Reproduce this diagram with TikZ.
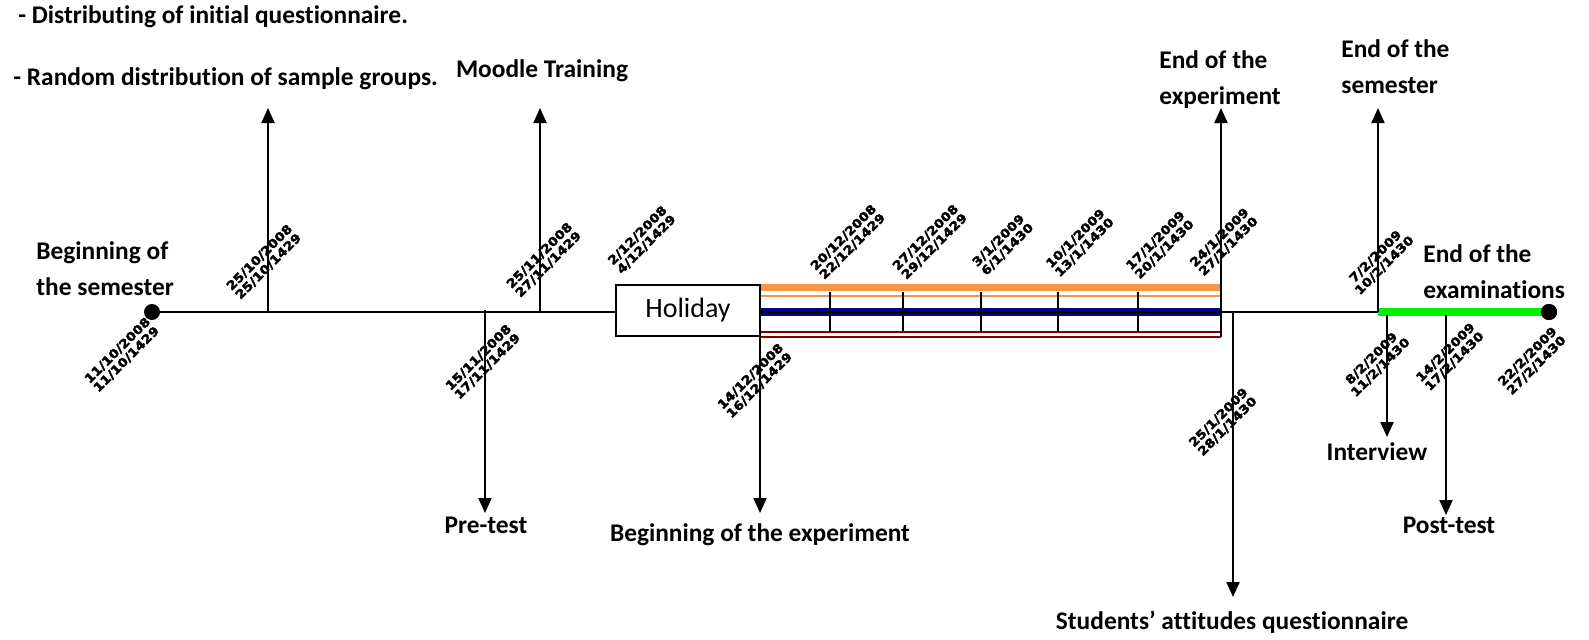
\documentclass[tikz,border=0pt]{standalone}
\usepackage{fontspec}
\setmainfont{Carlito}[Ligatures=NoCommon]
\newfontfamily\datefont[UprightFont={* Bold}, FakeStretch=1.15, FakeBold=3]{DejaVu Sans}
\usetikzlibrary{arrows.meta}
\definecolor{orangeL}{RGB}{247,150,70}
\definecolor{navyL}{RGB}{0,0,140}
\definecolor{maroonL}{RGB}{128,0,0}
\definecolor{greenL}{RGB}{0,240,0}
\tikzset{
  lbl/.style={font=\bfseries\fontsize{12.7}{18}\selectfont, inner sep=0pt},
  dt/.style={font=\datefont\fontsize{6}{6.3}\selectfont, rotate=45, align=center, inner sep=0pt},
  ln/.style={line width=1pt},
  arr/.style={line width=1pt, -{Triangle[width=6.5pt,length=7.5pt]}},
  dot/.style={circle, fill=black, minimum size=8pt, inner sep=0pt},
  tick/.style={line width=0.8pt},
}
\begin{document}
\begin{tikzpicture}[x=0.5pt,y=-0.5pt]
\useasboundingbox (0,0) rectangle (1589,639);
% top texts
\node[lbl, anchor=base west] (q1) at (18,23) {- Distributing of initial questionnaire.};
\node[lbl, anchor=base west] (q2) at (13,85) {- Random distribution of sample groups.};
\node[lbl, anchor=west, align=left] (bsem) at (36,269) {Beginning of\\the semester};
\node[lbl] (moodle) at (542,71) {Moodle Training};
\node[lbl, anchor=west, align=left] (eexp) at (1159,80) {End of the\\experiment};
\node[lbl, anchor=west, align=left] (esem) at (1341,67) {End of the\\semester};
\node[lbl, anchor=west, align=left] (eexam) at (1423,272) {End of the\\examinations};
\node[lbl] (pre) at (486,525) {Pre-test};
\node[lbl] (bexp) at (760,535) {Beginning of the experiment};
\node[lbl] (stud) at (1232,622) {Students’ attitudes questionnaire};
\node[lbl] (intv) at (1377,452) {Interview};
\node[lbl] (post) at (1449,525) {Post-test};

% main timeline
\node[dot] (start) at (152,312) {};
\node[dot] (stop) at (1549,312) {};
\node[draw, line width=0.8pt, minimum width=72pt, minimum height=25.5pt, inner sep=0pt,
      font=\fontsize{14}{16}\selectfont] (hol) at (688,310.5) {Holiday};
\coordinate (bandL) at (761,312);
\coordinate (bandR) at (1221,312);
\coordinate (semEnd) at (1378,312);
\draw[ln] (start) -- (hol.west |- start);
% experiment band
\draw[orangeL, line width=3.6pt] (761,287.5) -- (1221,287.5);
\draw[orangeL, line width=1pt] (761,295.5) -- (1221,295.5);
\draw[navyL, line width=3.8pt] (bandL) -- (bandR);
\draw[black, line width=0.9pt] (bandL) -- (bandR);
\draw[maroonL, line width=1pt] (761,332) -- (1221,332);
\draw[maroonL, line width=1pt] (761,336.5) -- (1221,336.5);
\foreach \x in {830,903,981,1058,1138} \draw[tick] (\x,292) -- (\x,331);
\draw[ln] (bandR) -- (semEnd);
\draw[greenL, line width=3.8pt] (semEnd) -- (stop.center);
\node[dot] at (stop) {};

% arrows
\coordinate (u1a) at (268,312); \coordinate (u1b) at (268,108);
\coordinate (u2a) at (540,312); \coordinate (u2b) at (540,108);
\coordinate (u3a) at (1221,337); \coordinate (u3b) at (1221,108);
\coordinate (u4a) at (1378,312); \coordinate (u4b) at (1378,108);
\coordinate (d1a) at (485,310); \coordinate (d1b) at (485,513);
\coordinate (d2a) at (760,336); \coordinate (d2b) at (760,513);
\coordinate (d3a) at (1233,312); \coordinate (d3b) at (1233,597);
\coordinate (d4a) at (1387,315); \coordinate (d4b) at (1387,437);
\coordinate (d5a) at (1446,315); \coordinate (d5b) at (1446,515);
\foreach \p in {u1,u2,u3,u4,d1,d2,d3,d4,d5} \draw[arr] (\p a) -- (\p b);

% dates
\node[dt] (t1) at (122,355) {11/10/2008\\11/10/1429};
\node[dt] (t2) at (264,262) {25/10/2008\\25/10/1429};
\node[dt] (t3) at (483,362) {15/11/2008\\17/11/1429};
\node[dt] (t4) at (544,260) {25/11/2008\\27/11/1429};
\node[dt] (t5) at (642,240) {2/12/2008\\4/12/1429};
\node[dt] (t6) at (755,381) {14/12/2008\\16/12/1429};
\node[dt] (t7) at (848,242) {20/12/2008\\22/12/1429};
\node[dt] (t8) at (930,242) {27/12/2008\\29/12/1429};
\node[dt] (t9) at (1003,245) {3/1/2009\\6/1/1430};
\node[dt] (t10) at (1080,243) {10/1/2009\\13/1/1430};
\node[dt] (t11) at (1160,245) {17/1/2009\\20/1/1430};
\node[dt] (t12) at (1224,242) {24/1/2009\\27/1/1430};
\node[dt] (t13) at (1223,422) {25/1/2009\\28/1/1430};
\node[dt] (t14) at (1380,261) {7/2/2009\\10/2/1430};
\node[dt] (t15) at (1376,363) {8/2/2009\\11/2/1430};
\node[dt] (t16) at (1450,357) {14/2/2009\\17/2/1430};
\node[dt] (t17) at (1532,361) {22/2/2009\\27/2/1430};
\end{tikzpicture}
\end{document}
